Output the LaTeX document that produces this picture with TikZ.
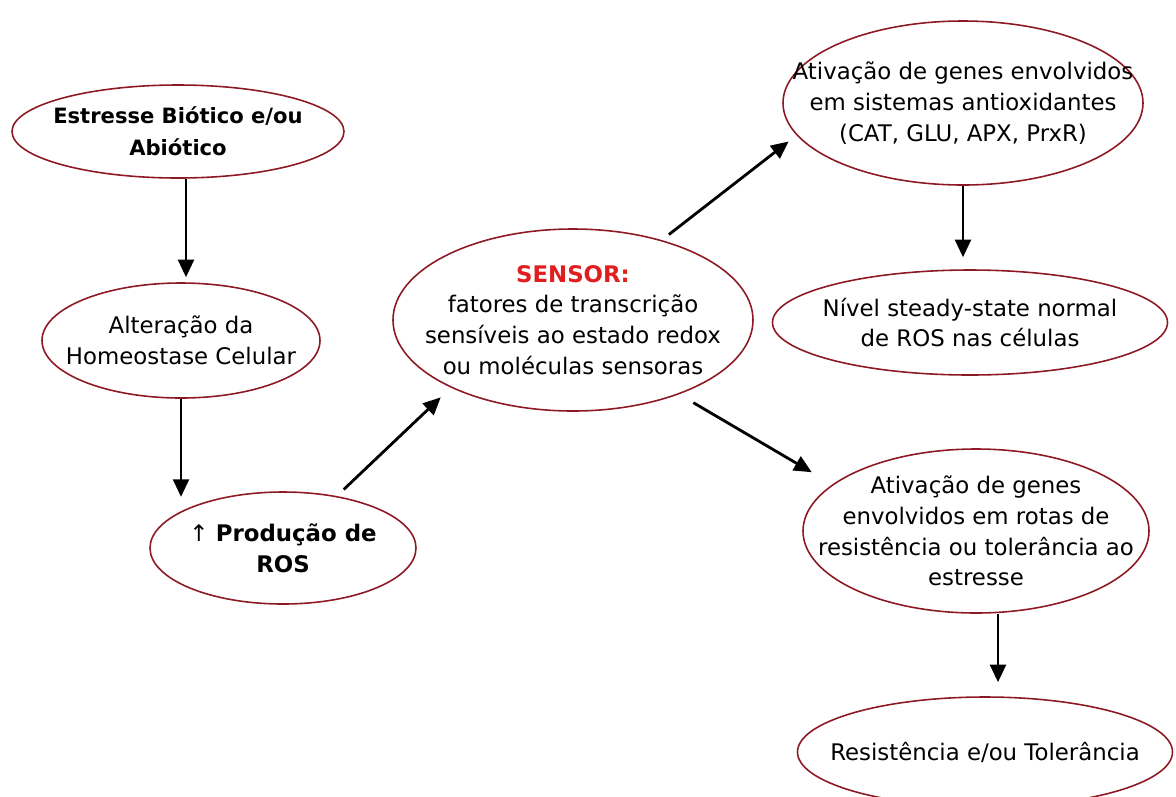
\documentclass[tikz,border=0pt]{standalone}
\usepackage{fontspec}
\setmainfont{DejaVu Sans}
\usetikzlibrary{shapes.geometric,arrows.meta}

\definecolor{rim}{RGB}{140,25,35}
\definecolor{sensorred}{RGB}{225,30,30}

\begin{document}
\begin{tikzpicture}[
    bubble/.style={ellipse, draw=rim, line width=0.9pt, inner xsep=-1.5cm, inner ysep=-0.6cm,
        align=center, font=\fontsize{13}{17.5}\selectfont},
    boldbubble/.style={bubble, font=\fontsize{12}{18}\selectfont\bfseries},
    flow/.style={line width=1.6pt, -{Triangle[length=10pt,width=9pt]}}
]

    \useasboundingbox (0,0) rectangle (23.52,-15.92);

    % --- Left column ---
    \node[boldbubble, minimum width=6.64cm, minimum height=1.86cm] (estresse) at (3.56,-2.63)
        {Estresse Biótico e/ou\\Abiótico};
    \node[bubble, minimum width=5.56cm, minimum height=2.3cm] (alteracao) at (3.62,-6.81)
        {Alteração da\\Homeostase Celular};
    \node[bubble, minimum width=5.32cm, minimum height=2.24cm] (producao) at (5.66,-10.96)
        {↑ \textbf{Produção de}\\\textbf{ROS}};

    % --- Sensor ---
    \node[bubble, minimum width=7.2cm, minimum height=3.64cm] (sensor) at (11.46,-6.4)
        {\textcolor{sensorred}{\textbf{SENSOR:}}\\fatores de transcrição\\sensíveis ao estado redox\\ou moléculas sensoras};

    % --- Right column ---
    \node[bubble, minimum width=7.2cm, minimum height=3.28cm] (antiox) at (19.26,-2.06)
        {Ativação de genes envolvidos\\em sistemas antioxidantes\\(CAT, GLU, APX, PrxR)};
    \node[bubble, minimum width=7.9cm, minimum height=2.1cm] (nivel) at (19.4,-6.45)
        {Nível steady-state normal\\de ROS nas células};
    \node[bubble, minimum width=6.92cm, minimum height=3.28cm] (resist) at (19.52,-10.62)
        {Ativação de genes\\envolvidos em rotas de\\resistência ou tolerância ao\\estresse};
    \node[bubble, minimum width=7.5cm, minimum height=2.2cm] (tolerancia) at (19.7,-15.04)
        {Resistência e/ou Tolerância};

    % --- Arrows ---
    \draw[flow, shorten >=0.1cm] ([xshift=0.16cm]estresse.south) -- ([xshift=0.16cm]estresse.south |- alteracao.north);
    \draw[flow, shorten >=0.22cm] (alteracao.south) -- (alteracao.south |- producao.north west);
    \draw[flow, shorten <=0.19cm, shorten >=0.28cm] (producao.44) -- (sensor.209);
    \draw[flow, shorten <=0.18cm, shorten >=0.2cm] (sensor.42) -- (antiox.191);
    \draw[flow, shorten <=0.33cm, shorten >=0.48cm] (sensor.325) -- (resist.162);
    \draw[flow, shorten >=0.24cm] (antiox.south) -- (antiox.south |- nivel.north);
    \draw[flow, shorten >=0.28cm] ([xshift=0.44cm]resist.south) -- ([xshift=0.44cm]resist.south |- tolerancia.north);

\end{tikzpicture}
\end{document}
